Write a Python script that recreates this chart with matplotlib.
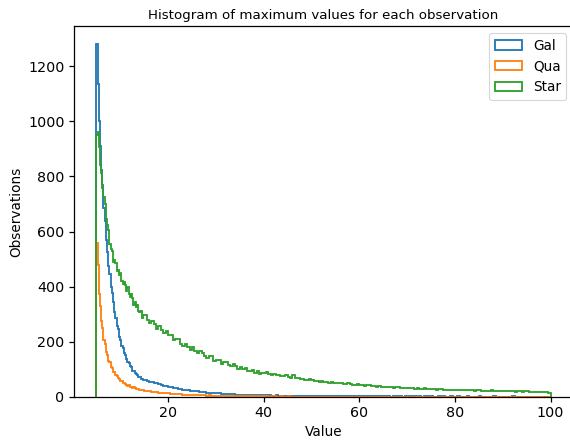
import numpy as np
import matplotlib
matplotlib.use("Agg")
import matplotlib.pyplot as plt

# Bin layout: 0.25-wide bins from 5 to 15, 0.5-wide bins from 15 to 100
fine_start, fine_stop, fine_step = 5, 15, 0.25
coarse_start, coarse_stop, coarse_step = 15, 100, 0.5

labels = ["Gal", "Qua", "Star"]

gal_counts = [
    1280, 1135, 1002, 910, 824, 769, 685, 638, 568, 524, 474, 447, 400, 376, 346, 307,
    288, 258, 245, 217, 207, 184, 177, 158, 153, 137, 126, 124, 111, 108, 96, 96,
    86, 85, 81, 73, 73, 66, 66, 61,
    61, 58, 56, 53, 51, 49, 46, 44, 41, 39, 37, 35, 33, 31, 30, 28, 27, 25, 24, 23,
    22, 20, 20, 18, 18, 17, 16, 15, 15, 14, 13, 13, 12, 12, 11, 11, 10, 10, 9, 9,
    9, 8, 8, 8, 8, 7, 7, 7, 7, 6, 6, 6, 6, 5, 5, 6, 5, 5, 5, 4, 5, 4, 4, 4, 4, 5,
    4, 3, 4, 3, 3, 4,
    3, 3, 3, 4, 3, 3, 2, 3, 3, 3, 3, 2, 3, 3, 2, 3, 3, 2,
    2, 3, 2, 2, 3, 2, 2, 2, 3, 2, 2, 2, 2, 1, 2, 2, 2, 2, 1, 2,
    2, 1, 2, 2, 1, 2, 1, 2, 2, 1, 2, 1, 1, 2, 1, 2, 1, 1, 2, 1,
    1, 2, 1, 1, 1, 2, 1, 1, 1, 1, 2, 1, 1, 1, 1, 1, 2, 1, 1, 1,
    1, 1, 1, 1, 2, 1, 1, 1, 1, 0, 1, 1, 1, 1, 1, 1, 0, 1, 1, 1,
]

qua_counts = [
    560, 478, 372, 331, 277, 251, 207, 192, 162, 154, 131, 126, 109, 106, 92, 90,
    79, 77, 68, 67, 59, 58, 51, 52, 46, 45, 41, 42, 37, 37, 33, 35, 31, 30, 29, 28,
    27, 27, 25, 24,
    23, 22, 20, 19, 18, 17, 15, 16, 14, 13, 13, 12, 11, 11, 10, 10, 9, 9, 8, 8,
    7, 7, 7, 6, 6, 6, 5, 6, 5, 5, 4, 5, 4, 4, 4, 3, 3, 4, 3, 3, 3, 3, 3, 2, 2, 3,
    2, 2, 2, 2,
    2, 2, 1, 2, 2, 1, 1, 2, 1, 1, 2, 1, 1, 1, 1, 1, 1, 1, 1, 1,
    1, 1, 1, 1, 1, 1, 1, 0, 1, 1, 1, 1, 1, 1, 0, 1, 1, 1, 1, 0,
    1, 1, 0, 1, 1, 1, 0, 1, 1, 0, 1, 1, 1, 0, 1, 1, 0, 1, 1, 1,
    0, 1, 1, 0, 1, 1, 0, 1, 0, 1, 1, 0, 1, 1, 0, 1, 0, 1, 1, 0,
    1, 0, 1, 0, 1, 1, 0, 1, 0, 1, 0, 1, 1, 0, 1, 0, 1, 0, 1, 0,
    1, 0, 1, 0, 1, 0, 0, 1, 0, 1, 1, 0, 1, 0, 0, 1, 0, 1, 0, 1,
]

star_counts = [
    950, 962, 905, 842, 812, 759, 726, 700, 646, 623, 604, 553, 537, 530, 490, 496,
    487, 456, 459, 443, 450, 421, 409, 416, 405, 386, 399, 374, 363, 374, 358, 333,
    345, 328, 334, 310, 308, 312, 288, 296,
    296, 280, 268, 277, 266, 247, 258, 242, 232, 241, 223, 225, 206, 210, 212, 192,
    185, 191, 183, 171, 180, 165, 159, 167, 158, 148, 142, 147, 149, 132, 133, 134,
    121, 126, 126, 115, 111, 118, 111, 102, 108, 100, 105, 94, 95, 97, 88, 93,
    85, 88,
    86, 90, 85, 81, 83, 78, 80, 76, 75, 78, 73, 70, 80, 69, 68, 66, 67, 63,
    62, 64, 60, 59, 58, 56, 57, 54, 55, 52, 53, 51, 49, 52, 50, 47, 48, 49, 46, 45,
    44, 46, 43, 44, 41, 42, 42, 39, 40, 38, 39, 37, 38, 36, 37, 35, 34, 36, 35, 33,
    34, 32, 33, 31, 32, 30, 31, 30, 29, 31, 30, 28, 28, 29, 27, 29, 28, 26, 27, 25,
    26, 27, 25, 26, 27, 24, 25, 24, 24, 26, 23, 24, 24, 22, 23, 22, 22, 24, 21, 22,
    22, 21, 20, 22, 21, 20, 22, 19, 20, 21, 19, 20, 20, 18, 19, 18, 18, 19, 17, 18,
    18, 16,
]

edges = np.concatenate([
    np.arange(fine_start, fine_stop, fine_step),
    np.arange(coarse_start, coarse_stop + 1e-9, coarse_step),
])

fig = plt.figure(figsize=(570 / 82, 442 / 82), dpi=82)
ax = fig.add_axes([73.6 / 570, 1 - 397 / 442, (573.3 - 73.6) / 570, (397 - 26.3) / 442])

for counts, lab in zip([gal_counts, qua_counts, star_counts], labels):
    ax.hist(edges[:-1], bins=edges, weights=np.asarray(counts, dtype=float),
            histtype="step", label=lab, linewidth=1.6)

ax.tick_params(labelsize=12.5, width=1.1, length=4.5)
for s in ax.spines.values():
    s.set_linewidth(1.1)
ax.set_title("Histogram of maximum values for each observation", fontsize=11.8)
ax.set_xlabel("Value", fontsize=12)
ax.set_ylabel("Observations", fontsize=12)
ax.legend(loc="upper right", fontsize=12)

fig.savefig("out.png", dpi=82)
